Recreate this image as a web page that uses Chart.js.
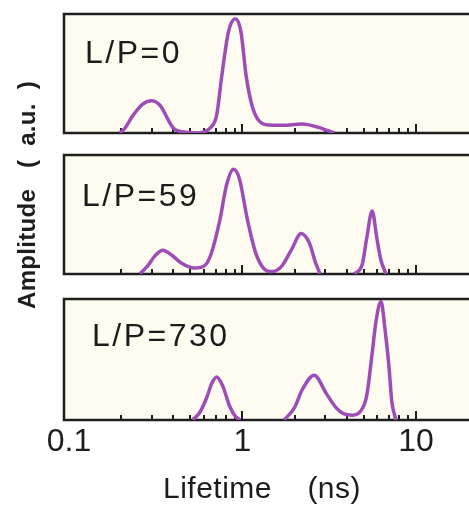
<!DOCTYPE html>
<html>
<head>
<meta charset="utf-8">
<script src="https://cdn.jsdelivr.net/npm/chart.js@4"></script>
<style>
  html, body { margin: 0; padding: 0; background: #fff; overflow: hidden; }
  #wrap { position: relative; width: 469px; height: 506px; overflow: hidden; }
  canvas { position: absolute; left: 0; }
  .lbl {
    position: absolute; font-family: "Liberation Sans", sans-serif;
    font-size: 32px; line-height: 32px; letter-spacing: 2.5px; color: #1c1c1c; white-space: pre;
  }
  #ytitle {
    position: absolute; left: 27px; top: 195px;
    transform: translate(-50%, -50%) rotate(-90deg);
    font-family: "Liberation Sans", sans-serif; font-weight: bold;
    font-size: 24px; letter-spacing: 0.3px; color: #1c1c1c; white-space: pre;
  }
  #xtitle {
    position: absolute; left: 163px; top: 473px;
    font-family: "Liberation Sans", sans-serif;
    font-size: 30px; line-height: 30px; letter-spacing: 0.5px; color: #1c1c1c; white-space: pre;
  }
</style>
</head>
<body>
<div id="wrap">
  <canvas id="p1" width="500" height="140" style="top:0"></canvas>
  <canvas id="p2" width="500" height="144" style="top:141px"></canvas>
  <canvas id="p3" width="500" height="216" style="top:290px"></canvas>
  <div class="lbl" style="left:85px; top:36px">L/P=0</div>
  <div class="lbl" style="left:82px; top:179px">L/P=59</div>
  <div class="lbl" style="left:92px; top:319px">L/P=730</div>
  <div id="ytitle">Amplitude   (  a.u.  )</div>
  <div id="xtitle">Lifetime    (ns)</div>
</div>
<script>
// lifetimes (ns) and amplitudes
const t0 = [0.196, 0.21, 0.232, 0.265, 0.30, 0.34, 0.37, 0.40, 0.45, 0.53, 0.60, 0.66, 0.71, 0.76, 0.83, 0.91, 0.98, 1.05, 1.14, 1.22, 1.37, 1.7, 2.2, 2.7, 3.1, 3.4];
const a0 = [0, 0.04, 0.14, 0.24, 0.27, 0.22, 0.12, 0.04, 0.01, 0, 0.01, 0.05, 0.15, 0.48, 0.85, 0.96, 0.85, 0.48, 0.22, 0.12, 0.07, 0.065, 0.075, 0.05, 0.02, 0];

const t59 = [0.256, 0.285, 0.312, 0.347, 0.39, 0.446, 0.53, 0.605, 0.66, 0.74, 0.81, 0.888, 0.96, 1.07, 1.19, 1.32, 1.47, 1.67, 1.91, 2.18, 2.43, 2.63, 2.8, 3.5, 4.4, 4.9, 5.2, 5.59, 5.95, 6.27, 6.72];
const a59 = [0, 0.07, 0.15, 0.20, 0.16, 0.09, 0.05, 0.07, 0.17, 0.45, 0.75, 0.88, 0.80, 0.45, 0.18, 0.05, 0.02, 0.06, 0.20, 0.34, 0.26, 0.10, 0, null, 0, 0.08, 0.30, 0.53, 0.30, 0.12, 0];

const t730 = [0.516, 0.566, 0.62, 0.664, 0.71, 0.77, 0.84, 0.91, 0.97, 1.3, 1.74, 1.99, 2.21, 2.59, 3.04, 3.47, 3.85, 4.29, 4.83, 5.2, 5.59, 5.89, 6.29, 6.63, 6.98, 7.26, 7.67];
const a730 = [0, 0.06, 0.18, 0.30, 0.355, 0.28, 0.12, 0.03, 0, null, 0, 0.10, 0.25, 0.37, 0.22, 0.10, 0.05, 0.04, 0.08, 0.20, 0.55, 0.82, 0.98, 0.75, 0.45, 0.15, 0];

const axisLabels = [0.1, 1, 10];
const minorTicks = [0.2, 0.3, 0.4, 0.5, 0.6, 0.7, 0.8, 0.9, 2, 3, 4, 5, 6, 7, 8, 9];
const majorTicks = [1, 10];

const purple = '#9d4db5';
const ink = '#1e1e1e';

// cream panel, frame and inward tick marks
const framePlugin = {
  id: 'frame',
  beforeDraw(chart) {
    const { ctx, chartArea: a } = chart;
    ctx.save();
    ctx.fillStyle = '#fefcf1';
    ctx.fillRect(a.left, a.top, a.right - a.left, a.bottom - a.top);
    ctx.restore();
  },
  beforeDatasetsDraw(chart) {
    const { ctx, chartArea: a, scales } = chart;
    ctx.save();
    ctx.strokeStyle = ink;
    ctx.lineWidth = 2.5;
    ctx.strokeRect(a.left, a.top, a.right - a.left, a.bottom - a.top);
    ctx.lineWidth = 2;
    const tick = (v, len) => {
      const px = Math.round(scales.x.getPixelForValue(v));
      ctx.beginPath();
      ctx.moveTo(px, a.bottom);
      ctx.lineTo(px, a.bottom - len);
      ctx.stroke();
    };
    minorTicks.forEach(v => tick(v, 5));
    majorTicks.forEach(v => tick(v, 9));
    ctx.restore();
  }
};

function makePanel(id, xs, ys, showAxis, pad) {
  const pts = xs.map((x, i) => ({ x: x, y: ys[i] }));
  const xScale = {
    type: 'logarithmic',
    min: 0.0936,
    max: 25,
    display: showAxis,
    grid: { display: false, drawTicks: false },
    border: { display: false },
  };
  if (showAxis) {
    xScale.afterBuildTicks = s => { s.ticks = axisLabels.map(v => ({ value: v })); };
    xScale.afterFit = s => { s.height = 86; };
    xScale.ticks = {
      autoSkip: false, maxRotation: 0, padding: 6, color: ink,
      font: { family: '"Liberation Sans", sans-serif', size: 32, lineHeight: 1 },
      callback: v => String(v)
    };
  }
  return new Chart(document.getElementById(id).getContext('2d'), {
    type: 'line',
    data: {
      datasets: [{
        data: pts,
        borderColor: purple,
        borderWidth: 3.5,
        pointRadius: 0,
        cubicInterpolationMode: 'monotone',
        spanGaps: false,
        fill: false
      }]
    },
    options: {
      responsive: false,
      devicePixelRatio: 1,
      animation: false,
      layout: { padding: pad },
      scales: {
        x: xScale,
        y: { min: 0, max: 1, display: false }
      },
      plugins: { legend: { display: false }, tooltip: { enabled: false } }
    },
    plugins: [framePlugin]
  });
}

makePanel('p1', t0, a0, false, { left: 64, right: 15, top: 14, bottom: 7 });
makePanel('p2', t59, a59, false, { left: 64, right: 15, top: 14, bottom: 11 });
makePanel('p3', t730, a730, true, { left: 64, right: 15, top: 9, bottom: 0 });
</script>
</body>
</html>
